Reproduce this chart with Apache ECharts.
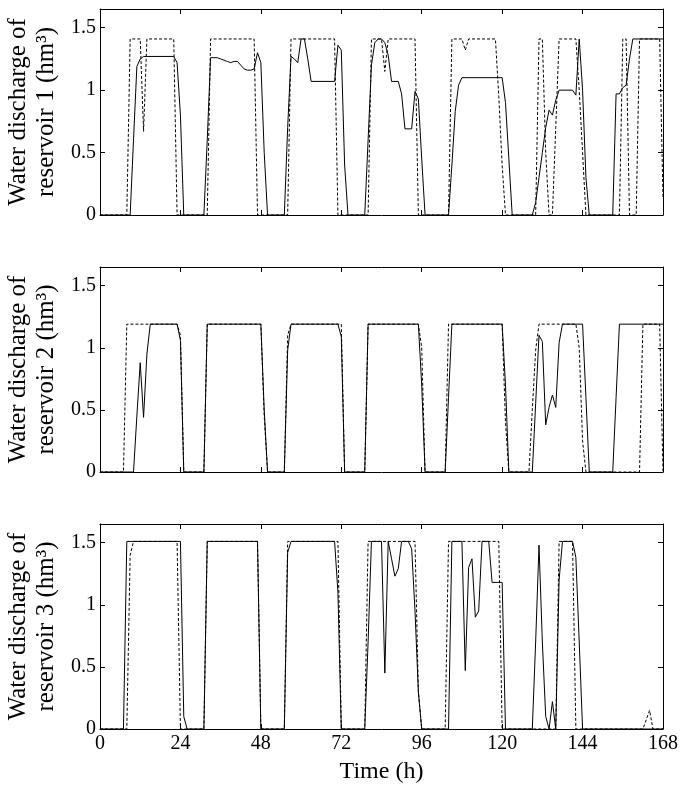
<!DOCTYPE html>
<html>
<head>
<meta charset="utf-8">
<script src="https://cdn.jsdelivr.net/npm/echarts@6/dist/echarts.min.js"></script>
<style>
html,body{margin:0;padding:0;background:#fff;}
#c{width:683px;height:791px;}
</style>
</head>
<body>
<div id="c"></div>
<script>
// ---- Data: [hour, discharge (hm^3)] break points, hourly resolution ----
const xTicks = [0, 24, 48, 72, 96, 120, 144, 168];
const yTicks = [0, 0.5, 1, 1.5];
const yTitles = [
  'Water discharge of\nreservoir 1 (hm³)',
  'Water discharge of\nreservoir 2 (hm³)',
  'Water discharge of\nreservoir 3 (hm³)'
];
const xTitle = 'Time (h)';

// Reservoir 1
const res1Solid = [[0,0],[9,0],[10,0.6],[11,1.19],[12,1.25],[13,1.27],[22,1.27],[23,1.22],[24,0.8],[25,0],
  [31,0],[32,0.6],[33,1.26],[35,1.26],[36,1.25],[37,1.24],[38,1.23],[39,1.22],[40,1.23],[41,1.23],[42,1.2],[43,1.17],[44,1.16],[45,1.16],[46,1.17],[47,1.3],[48,1.22],[49,0.5],[50,0],
  [55,0],[56,0.7],[57,1.27],[58,1.25],[59,1.22],[60,1.41],[61,1.41],[62,1.25],[63,1.07],[70,1.07],[71,1.36],[72,1.32],[73,0.4],[74,0],
  [79,0],[80,0.6],[81,1.2],[82,1.38],[83,1.41],[84,1.41],[85,1.38],[86,1.28],[87,1.07],[89,1.07],[90,0.97],[91,0.69],[93,0.69],[94,0.99],[95,0.93],[96,0.45],[97,0],
  [104,0],[105,0.4],[106,0.83],[107,1.04],[108,1.1],[120,1.1],[121,0.9],[122,0.45],[123,0],
  [129,0],[130,0.1],[131,0.3],[132,0.5],[133,0.7],[134,0.84],[135,0.8],[136,0.92],[137,1.0],[141,1.0],[142,0.96],[143,1.41],[144,1.0],[145,0.3],[146,0],
  [153,0],[154,0.97],[155,0.97],[156,1.02],[157,1.04],[158,1.25],[159,1.41],[168,1.41]];
const res1Dashed = [[0,0],[8,0],[9,1.41],[12,1.41],[13,0.67],[14,1.41],[22,1.41],[23,0],
  [32,0],[33,1.41],[46,1.41],[47,0],
  [56,0],[57,1.41],[70,1.41],[71,0],
  [80,0],[81,1.41],[84,1.41],[85,1.15],[86,1.41],[94,1.41],[95,0],
  [104,0],[105,1.41],[108,1.41],[109,1.32],[110,1.41],[118,1.41],[119,0.95],[120,0.4],[121,0],
  [130,0],[131,1.41],[132,1.41],[133,0.5],[134,0],
  [135,0],[136,0.7],[137,1.41],[142,1.41],[143,1.0],[144,0.5],[145,0],
  [155,0],[156,1.41],[157,1.41],[158,0],[160,0],[161,1.41],[167,1.41],[168,0.13]];

// Reservoir 2
const res2Solid = [[0,0],[10,0],[11,0.45],[12,0.88],[13,0.44],[14,0.95],[15,1.19],[23,1.19],[24,1.06],[25,0],
  [31,0],[32,1.19],[48,1.19],[49,0.5],[50,0],
  [55,0],[56,0.98],[57,1.19],[71,1.19],[72,1.09],[73,0],
  [79,0],[80,1.19],[95,1.19],[96,0.7],[97,0],
  [103,0],[104,0.6],[105,1.19],[120,1.19],[121,0.7],[122,0],
  [129,0],[130,0.55],[131,1.1],[132,1.05],[133,0.38],[134,0.52],[135,0.62],[136,0.52],[137,1.04],[138,1.19],[144,1.19],[145,0.6],[146,0],
  [153,0],[154,0.6],[155,1.19],[168,1.19]];
const res2Dashed = [[0,0],[7,0],[8,1.19],[23,1.19],[24,1.1],[25,0],
  [31,0],[32,1.19],[48,1.19],[49,0.45],[50,0],
  [55,0],[56,1.1],[57,1.19],[72,1.19],[73,0],
  [79,0],[80,1.19],[95,1.19],[96,1.0],[97,0],
  [103,0],[104,1.19],[120,1.19],[121,0.4],[122,0],
  [128,0],[129,0.5],[130,0.98],[131,1.19],[142,1.19],[143,1.0],[144,0.25],[145,0],
  [161,0],[162,1.19],[167,1.19],[168,0]];

// Reservoir 3
const res3Solid = [[0,0],[7,0],[8,1.51],[24,1.51],[25,0.1],[26,0],
  [31,0],[32,1.51],[47,1.51],[48,0],
  [55,0],[56,1.42],[57,1.51],[70,1.51],[71,1.1],[72,0],
  [79,0],[80,0.7],[81,1.51],[84,1.51],[85,0.45],[86,1.51],[87,1.37],[88,1.23],[89,1.29],[90,1.51],[92,1.51],[93,1.45],[94,0.95],[95,0.3],[96,0],
  [104,0],[105,1.51],[108,1.51],[109,0.47],[110,1.3],[111,1.37],[112,0.9],[113,0.95],[114,1.51],[116,1.51],[117,1.18],[120,1.18],[121,0],
  [129,0],[130,0.7],[131,1.48],[132,0.7],[133,0.1],[134,0],[135,0.22],[136,0],[137,1.2],[138,1.51],[141,1.51],[142,1.38],[143,0.7],[144,0],
  [168,0]];
const res3Dashed = [[0,0],[8,0],[9,1.4],[10,1.51],[23,1.51],[24,0],
  [31,0],[32,1.51],[47,1.51],[48,0],
  [55,0],[56,1.51],[71,1.51],[72,0],
  [79,0],[80,1.51],[94,1.51],[95,0.3],[96,0],
  [103,0],[104,1.51],[119,1.51],[120,0],
  [136,0],[137,1.51],[141,1.51],[142,0],
  [162,0],[164,0.15],[165,0],[168,0]];

const panels = [[res1Solid, res1Dashed],[res2Solid, res2Dashed],[res3Solid, res3Dashed]];

// ---- Layout ----
const FONT = 'Liberation Serif';
const grids = [
  {left:100, right:20, top:9, height:206, outerBoundsMode:'none', containLabel:false},
  {left:100, right:20, top:267, height:205, outerBoundsMode:'none', containLabel:false},
  {left:100, right:20, top:524, height:205, outerBoundsMode:'none', containLabel:false}
];
const xAxes = [], yAxes = [], series = [];
const tickStyle = {show:true, inside:true, length:5, lineStyle:{color:'#000', width:1}};
const lineAx = {show:true, onZero:false, lineStyle:{color:'#000', width:1}};
grids.forEach((g, i) => {
  const last = i === grids.length - 1;
  xAxes.push({gridIndex:i, type:'value', min:xTicks[0], max:xTicks[xTicks.length-1], interval:24,
    position:'bottom', axisLine:lineAx, axisTick:tickStyle, splitLine:{show:false},
    axisLabel:{show:last, color:'#000', fontFamily:FONT, fontSize:20, margin:5},
    name: last ? xTitle : '', nameLocation:'middle', nameGap:31,
    nameTextStyle:{color:'#000', fontFamily:FONT, fontSize:24}});
  xAxes.push({gridIndex:i, type:'value', min:0, max:168, interval:24, position:'top',
    axisLine:lineAx, axisTick:tickStyle, axisLabel:{show:false}, splitLine:{show:false}});
  yAxes.push({gridIndex:i, type:'value', min:0, max:1.65, interval:0.5, position:'left',
    axisLine:lineAx, axisTick:tickStyle, splitLine:{show:false},
    axisLabel:{color:'#000', fontFamily:FONT, fontSize:20, margin:4, showMaxLabel:false,
      formatter: v => yTicks.indexOf(v) >= 0 ? String(v) : ''},
    name: yTitles[i], nameLocation:'middle', nameRotate:90, nameGap:34,
    nameTextStyle:{color:'#000', fontFamily:FONT, fontSize:25, lineHeight:28}});
  yAxes.push({gridIndex:i, type:'value', min:0, max:1.65, interval:0.5, position:'right',
    axisLine:lineAx, axisTick:tickStyle, axisLabel:{show:false}, splitLine:{show:false}});
  const [solid, dashed] = panels[i];
  series.push({type:'line', xAxisIndex:2*i, yAxisIndex:2*i, data:dashed, symbol:'none',
    lineStyle:{color:'#000', width:1, type:[3,2]}, animation:false});
  series.push({type:'line', xAxisIndex:2*i, yAxisIndex:2*i, data:solid, symbol:'none',
    lineStyle:{color:'#000', width:1}, animation:false});
});

const chart = echarts.init(document.getElementById('c'), null, {renderer:'canvas'});
chart.setOption({
  backgroundColor:'#fff',
  animation:false,
  grid: grids,
  xAxis: xAxes,
  yAxis: yAxes,
  series: series
});
</script>
</body>
</html>
